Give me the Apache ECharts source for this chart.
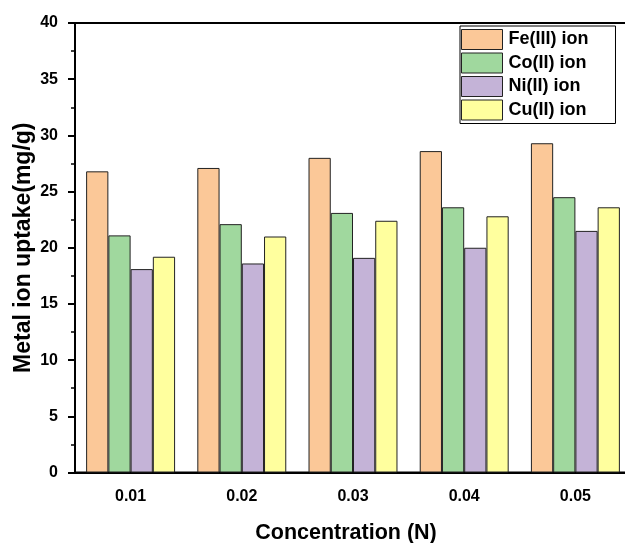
<!DOCTYPE html>
<html>
<head>
<meta charset="utf-8">
<script src="https://cdn.jsdelivr.net/npm/echarts@6/dist/echarts.min.js"></script>
<style>
  html, body { margin: 0; padding: 0; background: #fff; }
  #chart { width: 625px; height: 543px; }
</style>
</head>
<body>
<div id="chart"></div>
<script>
// Metal ion uptake at each acid concentration
const concentrations = ['0.01', '0.02', '0.03', '0.04', '0.05'];
const feIII = [26.8, 27.1, 28.0, 28.6, 29.3];
const coII  = [21.1, 22.1, 23.1, 23.6, 24.5];
const niII  = [18.1, 18.6, 19.1, 20.0, 21.5];
const cuII  = [19.2, 21.0, 22.4, 22.8, 23.6];
const seriesNames = ['Fe(III) ion', 'Co(II) ion', 'Ni(II) ion', 'Cu(II) ion'];
const seriesColors = ['#FBC898', '#A0D89E', '#C4B3D7', '#FFFF9E'];

const FONT = '"Liberation Sans", Arial, sans-serif';

const chart = echarts.init(document.getElementById('chart'), null, { renderer: 'canvas' });

function barSeries(name, data, color) {
  return {
    name: name,
    type: 'bar',
    xAxisIndex: 0,
    data: data,
    barGap: '0%',
    barCategoryGap: '20%',
    itemStyle: { color: color, borderColor: '#222', borderWidth: 1 }
  };
}

chart.setOption({
  animation: false,
  backgroundColor: '#fff',
  grid: {
    left: 75, top: 23, width: 556, height: 449.5,
    outerBoundsMode: 'none',
    containLabel: false,
    show: true, borderColor: '#000', borderWidth: 2, backgroundColor: 'transparent'
  },
  legend: {
    orient: 'vertical',
    left: 460, top: 26,
    padding: [3, 27, 3, 1],
    itemGap: 2.5,
    itemWidth: 41, itemHeight: 20,
    borderColor: '#000', borderWidth: 1,
    icon: 'rect',
    textStyle: { fontFamily: FONT, fontWeight: 'bold', fontSize: 18, color: '#000', padding: [0, 0, 0, 1] },
    itemStyle: { borderColor: '#222', borderWidth: 1 },
    data: seriesNames
  },
  xAxis: [
    {
      type: 'category',
      data: concentrations,
      name: 'Concentration (N)',
      nameLocation: 'middle',
      nameGap: 50,
      nameTextStyle: { fontFamily: FONT, fontWeight: 'bold', fontSize: 21.5, color: '#000', padding: [0, 14, 0, 0] },
      axisLine: { lineStyle: { color: '#000', width: 2 } },
      axisTick: { alignWithLabel: true, length: 7, lineStyle: { color: '#000', width: 2 } },
      axisLabel: { fontFamily: FONT, fontWeight: 'bold', fontSize: 16, color: '#000', margin: 16 },
      splitLine: { show: false }
    },
    {
      // boundary ticks between the groups
      type: 'category',
      data: concentrations,
      position: 'bottom',
      axisLine: { show: false },
      axisTick: { length: 4, lineStyle: { color: '#000', width: 2 } },
      axisLabel: { show: false },
      splitLine: { show: false }
    }
  ],
  yAxis: {
    type: 'value',
    min: 0, max: 40, interval: 5,
    name: 'Metal ion uptake(mg/g)',
    nameLocation: 'middle',
    nameGap: 40,
    nameMoveOverlap: false,
    nameTextStyle: { fontFamily: FONT, fontWeight: 'bold', fontSize: 23, color: '#000' },
    axisLine: { show: true, lineStyle: { color: '#000', width: 2 } },
    axisTick: { show: true, length: 7, lineStyle: { color: '#000', width: 2 } },
    minorTick: { show: true, splitNumber: 2, length: 4, lineStyle: { color: '#000', width: 1.5 } },
    axisLabel: { fontFamily: FONT, fontWeight: 'bold', fontSize: 16, color: '#000', margin: 17 },
    splitLine: { show: false }
  },
  series: [
    barSeries(seriesNames[0], feIII, seriesColors[0]),
    barSeries(seriesNames[1], coII, seriesColors[1]),
    barSeries(seriesNames[2], niII, seriesColors[2]),
    barSeries(seriesNames[3], cuII, seriesColors[3])
  ]
});
</script>
</body>
</html>
